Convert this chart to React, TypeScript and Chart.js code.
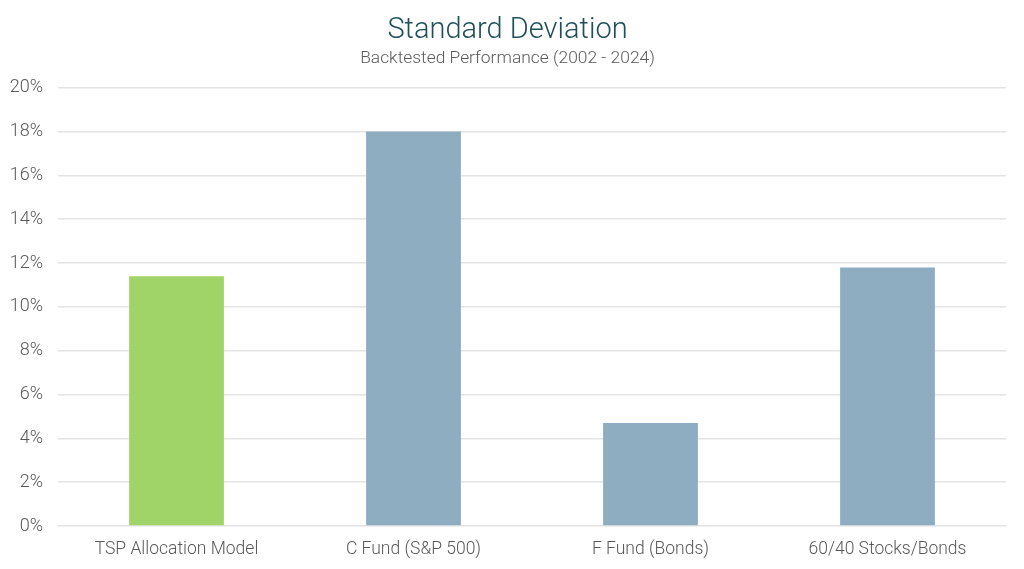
import { useEffect, useRef } from "react"
import { Chart, registerables } from "chart.js"

Chart.register(...registerables)

const categories = ["TSP Allocation Model", "C Fund (S&P 500)", "F Fund (Bonds)", "60/40 Stocks/Bonds"]
const stdDev = [11.4, 18.0, 4.7, 11.8]
const barColors = ["#a0d468", "#8fadc1", "#8fadc1", "#8fadc1"]

const FONT = "Roboto"

export default function App() {
  const chartRef = useRef<HTMLCanvasElement>(null)
  const chartInstance = useRef<Chart | null>(null)

  useEffect(() => {
    if (!chartRef.current) return
    if (chartInstance.current) chartInstance.current.destroy()

    const ctx = chartRef.current.getContext("2d")
    if (!ctx) return

    chartInstance.current = new Chart(ctx, {
      type: "bar",
      data: {
        labels: categories,
        datasets: [
          {
            label: "Standard Deviation",
            data: stdDev,
            backgroundColor: barColors,
            barPercentage: 0.4,
            categoryPercentage: 1,
          },
        ],
      },
      options: {
        animation: false,
        responsive: true,
        maintainAspectRatio: false,
        layout: { autoPadding: false, padding: { left: 9, right: 18, top: 13, bottom: -4 } },
        scales: {
          y: {
            min: 0,
            max: 20,
            border: { display: false },
            grid: { color: "#e3e3e3", lineWidth: 1.5, drawTicks: false },
            ticks: {
              stepSize: 2,
              padding: 15,
              color: "#595959",
              font: { family: FONT, size: 18, weight: 300 },
              callback: (v) => `${v}%`,
            },
            // the fit counts tick padding twice; trim to label + one padding
            afterFit: (scale) => {
              scale.width = 49
            },
          },
          x: {
            border: { display: false },
            grid: { display: false, drawTicks: false },
            ticks: {
              padding: 13,
              color: "#595959",
              font: { family: FONT, size: 17.5, weight: 300 },
            },
          },
        },
        plugins: {
          legend: { display: false },
          tooltip: { enabled: false },
          title: {
            display: true,
            text: "Standard Deviation",
            color: "#1f4f5b",
            font: { family: FONT, size: 29, weight: 300 },
            padding: { top: 0, bottom: 0 },
          },
          subtitle: {
            display: true,
            text: "Backtested Performance (2002 - 2024)",
            color: "#595959",
            font: { family: FONT, size: 17.4, weight: 300 },
            padding: { top: 0, bottom: 19 },
          },
        },
      },
    })

    return () => {
      if (chartInstance.current) {
        chartInstance.current.destroy()
        chartInstance.current = null
      }
    }
  }, [])

  return (
    <div style={{ position: "fixed", left: 0, top: 0, width: 1024, height: 569, background: "#fff" }}>
      <canvas ref={chartRef} />
    </div>
  )
}
